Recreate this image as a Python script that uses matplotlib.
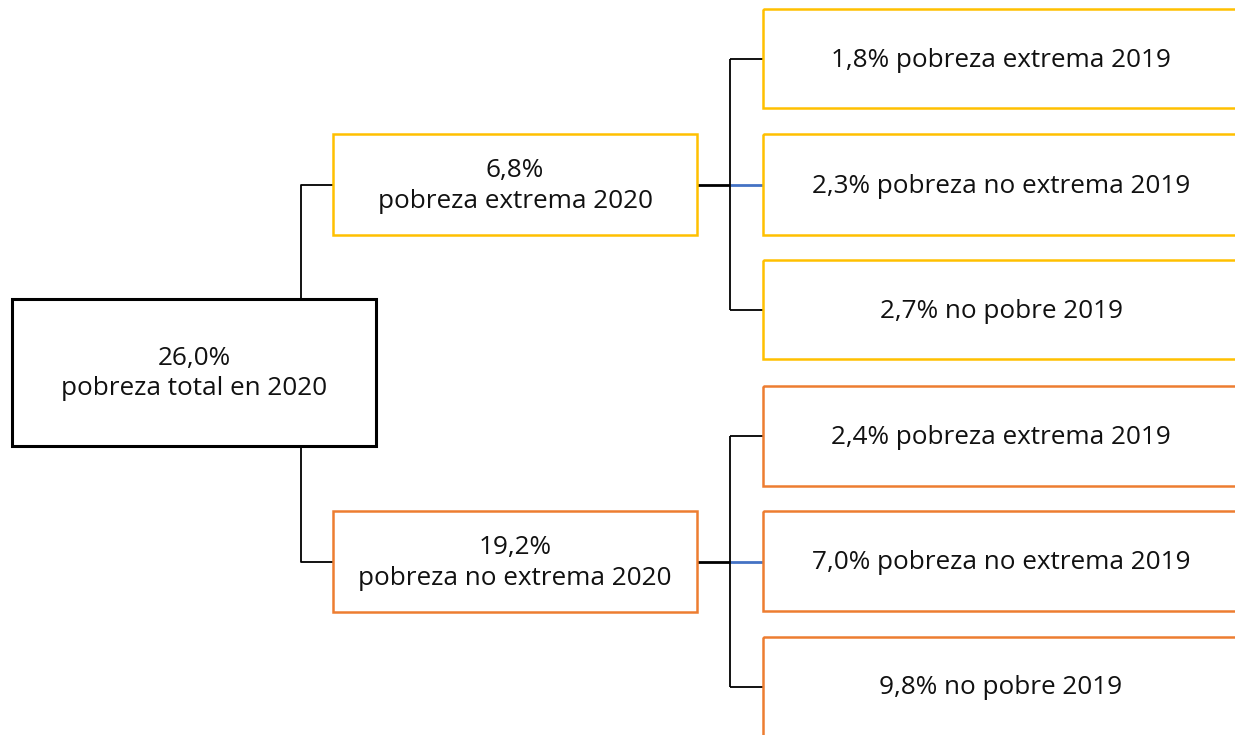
import matplotlib
matplotlib.use("Agg")
import matplotlib.pyplot as plt
from matplotlib.patches import Rectangle

# Data
root_label = "26,0%\npobreza total en 2020"
level1_labels = ["6,8%\npobreza extrema 2020", "19,2%\npobreza no extrema 2020"]
level2_labels = [
    ["1,8% pobreza extrema 2019", "2,3% pobreza no extrema 2019", "2,7% no pobre 2019"],
    ["2,4% pobreza extrema 2019", "7,0% pobreza no extrema 2019", "9,8% no pobre 2019"],
]
group_colors = ["#FFC000", "#ED7D31"]

W, H = 1235, 735
fig = plt.figure(figsize=(W / 100, H / 100), dpi=100)
ax = fig.add_axes([0, 0, 1, 1])
ax.set_xlim(0, W)
ax.set_ylim(H, 0)
ax.axis("off")

FONT = "Open Sans"
FS = 18.8
DY = 1.5
LS = 1.3

def box(x0, y0, x1, y1, color, lw):
    ax.add_patch(Rectangle((x0, y0), x1 - x0, y1 - y0, fill=False,
                           edgecolor=color, linewidth=lw, zorder=3))

def line(xs, ys, color="black", lw=1.3):
    ax.plot(xs, ys, color=color, linewidth=lw, zorder=2, solid_capstyle="butt")

# root
box(12, 299, 376, 446, "black", 2.2)
ax.text(194, 372 + DY, root_label, ha="center", va="center", fontsize=FS,
        family=FONT, linespacing=LS, color="#111111")

l1_y = [(134, 235), (511, 612)]
l2_y = [[(9, 108), (134, 235), (260, 359)], [(386, 486), (511, 611), (637, 760)]]

# root connectors
c_top = (l1_y[0][0] + l1_y[0][1]) / 2
c_bot = (l1_y[1][0] + l1_y[1][1]) / 2
line([301, 301, 333], [299, c_top, c_top])
line([301, 301, 333], [446, c_bot, c_bot])

for g in range(2):
    col = group_colors[g]
    y0, y1 = l1_y[g]
    cy = (y0 + y1) / 2
    box(333, y0, 697, y1, col, 1.8)
    ax.text(515, cy + DY, level1_labels[g], ha="center", va="center", fontsize=FS,
            family=FONT, linespacing=LS, color="#111111")
    centers = []
    for i, (a, b) in enumerate(l2_y[g]):
        cc = (a + b) / 2 if i < 2 or g == 0 else a + 49.5
        centers.append(cc)
        box(763, a, 1245, b, col, 1.8)
        ax.text(1001, cc + DY, level2_labels[g][i], ha="center", va="center",
                fontsize=FS, family=FONT, color="#111111")
    # connectors
    line([697, 730], [cy, cy], "black", 2.0)
    line([730, 763], [cy, cy], "#4472C4", 2.0)
    line([730, 730], [centers[0], centers[2]])
    line([730, 763], [centers[0], centers[0]])
    line([730, 763], [centers[2], centers[2]])

fig.savefig("out.png", dpi=100, facecolor="white")
